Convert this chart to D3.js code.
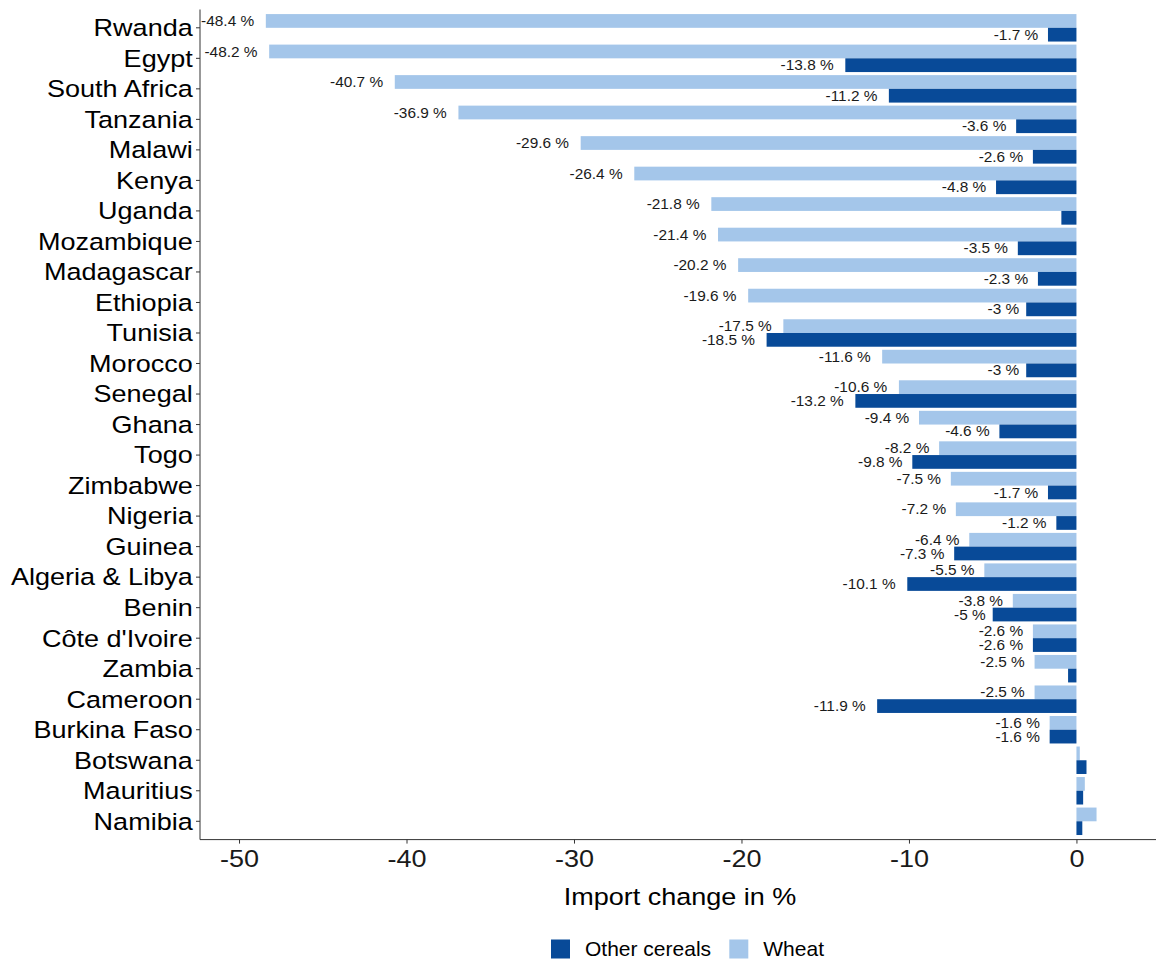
<!DOCTYPE html>
<html>
<head>
<meta charset="utf-8">
<script src="https://cdn.jsdelivr.net/npm/d3@7"></script>
<style>
  html, body { margin: 0; padding: 0; background: #ffffff; }
  svg { display: block; font-family: "Liberation Sans", Arial, Helvetica, sans-serif; }
</style>
</head>
<body>
<svg id="chart" width="1156" height="961"></svg>
<script>
const countries = ["Rwanda","Egypt","South Africa","Tanzania","Malawi","Kenya","Uganda","Mozambique","Madagascar","Ethiopia","Tunisia","Morocco","Senegal","Ghana","Togo","Zimbabwe","Nigeria","Guinea","Algeria & Libya","Benin","Côte d'Ivoire","Zambia","Cameroon","Burkina Faso","Botswana","Mauritius","Namibia"];
const wheat = [-48.4,-48.2,-40.7,-36.9,-29.6,-26.4,-21.8,-21.4,-20.2,-19.6,-17.5,-11.6,-10.6,-9.4,-8.2,-7.5,-7.2,-6.4,-5.5,-3.8,-2.6,-2.5,-2.5,-1.6,0.2,0.5,1.2];
const otherCereals = [-1.7,-13.8,-11.2,-3.6,-2.6,-4.8,-0.9,-3.5,-2.3,-3,-18.5,-3,-13.2,-4.6,-9.8,-1.7,-1.2,-7.3,-10.1,-5,-2.6,-0.5,-11.9,-1.6,0.6,0.4,0.35];
const seriesNames = ["Other cereals","Wheat"];
const xTicks = [-50,-40,-30,-20,-10,0];
const xTitle = "Import change in %";

const colors = {"Other cereals": "#084a98", "Wheat": "#a4c6ea"};
const SX = 1.15; // horizontal text stretch seen in reference
const FS = 23.5;

const svg = d3.select("#chart");
const pLeft = 200, pRight = 1156, pTop = 9.5, pBottom = 839.6;

const x = d3.scaleLinear().domain([-52.33, 4.75]).range([pLeft, pRight]);
const y = d3.scaleBand().domain(countries).range([pTop, pBottom]).paddingInner(0).paddingOuter(0.1);
const sub = d3.scaleBand().domain(["Wheat","Other cereals"]).range([0, y.step()*0.9]);

const rows = [];
countries.forEach((c, i) => {
  rows.push({country: c, series: "Wheat", value: wheat[i]});
  rows.push({country: c, series: "Other cereals", value: otherCereals[i]});
});

const barOffset = y.step()*0.05;
const g = svg.append("g");
g.selectAll("rect.bar").data(rows).join("rect")
  .attr("class","bar")
  .attr("x", d => x(Math.min(0, d.value)))
  .attr("width", d => Math.abs(x(d.value) - x(0)))
  .attr("y", d => y(d.country) + barOffset + sub(d.series))
  .attr("height", sub.bandwidth())
  .attr("fill", d => colors[d.series]);

// value labels
const labG = svg.append("g");
rows.filter(d => d.value <= -1).forEach(d => {
  const cy = y(d.country) + barOffset + sub(d.series) + sub.bandwidth()/2;
  const gg = labG.append("g").attr("transform", `translate(${x(d.value)},${cy})`);
  const t = gg.append("text")
    .attr("text-anchor","end")
    .attr("dy","0.36em")
    .attr("font-size", 14)
    .attr("fill","#1a1a1a")
    .text(d.value + " %");
  const w = t.node().getComputedTextLength()*1.1;
  t.attr("transform", `translate(${-w*0.22},0) scale(1.1,1)`);
});

// y axis
const yAxis = svg.append("g").attr("transform", `translate(${pLeft},0)`)
  .call(d3.axisLeft(y).tickSize(4).tickSizeOuter(0));
yAxis.select(".domain").attr("stroke","#333").attr("stroke-width",1).attr("d", `M0,${pTop}V${pBottom}`);
yAxis.selectAll(".tick line").attr("stroke","#333");
yAxis.selectAll(".tick text")
  .attr("x", null).attr("dy","0.355em")
  .attr("font-size", FS).attr("fill","#000")
  .attr("font-family", '"Liberation Sans", Arial, sans-serif')
  .attr("transform", `translate(-7.3,0) scale(${SX},1)`);

// x axis
const xAxis = svg.append("g").attr("transform", `translate(0,${pBottom})`)
  .call(d3.axisBottom(x).tickValues(xTicks).tickSize(4).tickSizeOuter(0).tickFormat(d => String(d)));
xAxis.select(".domain").attr("stroke","#333").attr("stroke-width",1).attr("d", `M${pLeft},0H${pRight}`);
xAxis.selectAll(".tick line").attr("stroke","#333");
xAxis.selectAll(".tick text")
  .attr("y", null).attr("dy", null)
  .attr("font-size", FS).attr("fill","#1a1a1a")
  .attr("font-family", '"Liberation Sans", Arial, sans-serif')
  .attr("transform", `translate(0,27) scale(${SX},1)`);

// x title
svg.append("g").attr("transform", `translate(${(pLeft+pRight)/2 + 2},905)`)
  .append("text").attr("text-anchor","middle").attr("font-size",FS).attr("fill","#000")
  .attr("transform", `scale(${SX},1)`).text(xTitle);

// legend
const legItems = [{name: seriesNames[0], x: 551}, {name: seriesNames[1], x: 729.3}];
const leg = svg.append("g");
legItems.forEach(it => {
  leg.append("rect").attr("x", it.x).attr("y", 939.5).attr("width", 19).attr("height", 19)
    .attr("fill", colors[it.name]);
  leg.append("g").attr("transform", `translate(${it.x + 34},955.5)`)
    .append("text").attr("font-size", 21).attr("fill","#000").text(it.name);
});
</script>
</body>
</html>
